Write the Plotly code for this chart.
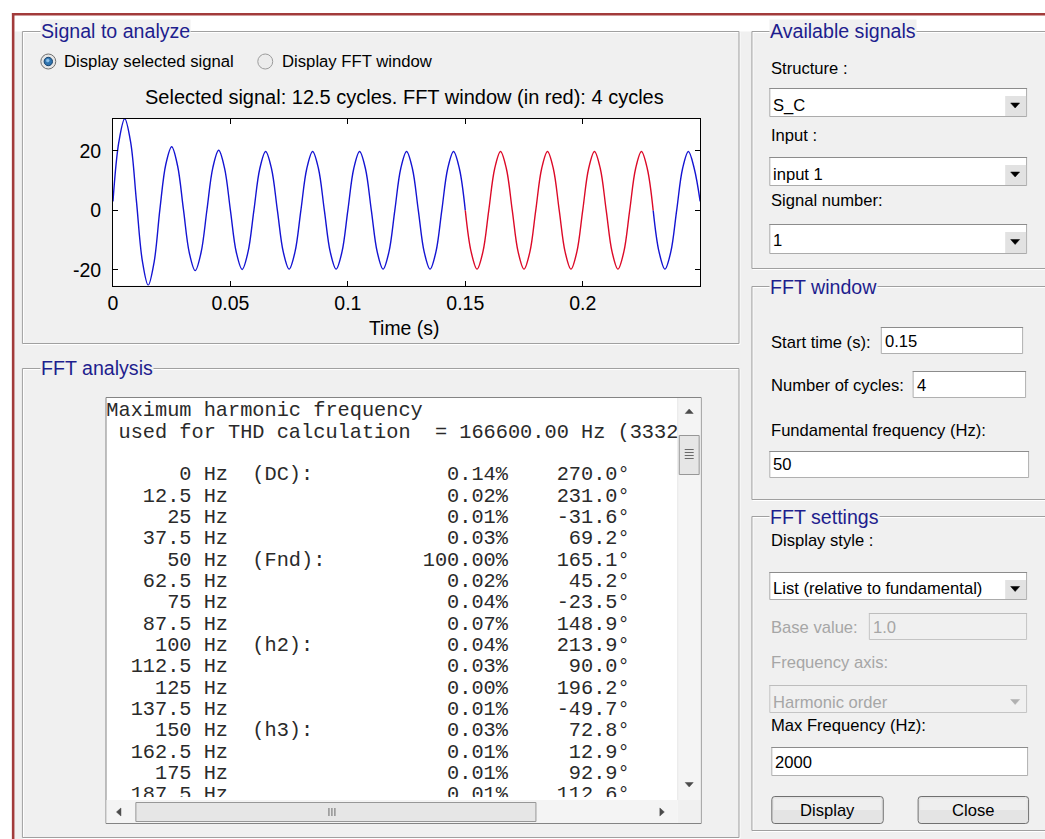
import plotly.graph_objects as go

W, H = 1045, 839

# ------------------------------------------------------------------ data
sample_step_s = 0.0025
signal_values = [
    3.0, 23.0, 30.8, 23.0, 3.0, -17.0, -25.2, -17.5,
    0.5, 15.5, 21.4, 15.0, 0.3, -14.3, -20.3, -14.2,
    0.1, 14.3, 20.2, 14.2, 0.0, -14.1, -19.9, -14.0,
    0.0, 14.0, 19.8, 14.0, 0.0, -14.0, -19.8, -14.0,
    0.0, 14.0, 19.8, 14.0, 0.0, -14.0, -19.8, -14.0,
    0.0, 14.0, 19.8, 14.0, 0.0, -14.0, -19.8, -14.0,
    0.0, 14.0, 19.8, 14.0, 0.0, -14.0, -19.8, -14.0,
    0.0, 14.0, 19.8, 14.0, 0.0, -14.0, -19.8, -14.0,
    0.0, 14.0, 19.8, 14.0, 0.0, -14.0, -19.8, -14.0,
    0.0, 14.0, 19.8, 14.0, 0.0, -14.0, -19.8, -14.0,
    0.0, 14.0, 19.8, 14.0, 0.0, -14.0, -19.8, -14.0,
    0.0, 14.0, 19.8, 14.0, 0.0, -14.0, -19.8, -14.0,
    0.0, 14.0, 19.8, 14.0, 3.0,
]
fft_start_s = 0.15
fft_cycles = 4
fundamental_hz = 50
x_range = [0, 0.25]
y_range = [-25.3, 30.9]
x_ticks = [0, 0.05, 0.1, 0.15, 0.2]
x_tick_labels = ["0", "0.05", "0.1", "0.15", "0.2"]
y_ticks = [-20, 0, 20]
y_tick_labels = ["-20", "0", "20"]

harm_freq_labels = ["0", "12.5", "25", "37.5", "50", "62.5", "75", "87.5",
                    "100", "112.5", "125", "137.5", "150", "162.5", "175", "187.5"]
harm_tags = ["(DC):", "", "", "", "(Fnd):", "", "", "", "(h2):", "", "", "",
             "(h3):", "", "", ""]
harm_mag_pct = [0.14, 0.02, 0.01, 0.03, 100.00, 0.02, 0.04, 0.07,
                0.04, 0.03, 0.00, 0.01, 0.03, 0.01, 0.01, 0.01]
harm_phase_deg = [270.0, 231.0, -31.6, 69.2, 165.1, 45.2, -23.5, 148.9,
                  213.9, 90.0, 196.2, -49.7, 72.8, 12.9, 92.9, 112.6]
header_lines = ["Maximum harmonic frequency",
                " used for THD calculation  = 166600.00 Hz (3332"]

# ------------------------------------------------------------------ styles
SANS = "Liberation Sans, Arial, sans-serif"
MONO = "Liberation Mono, Courier New, monospace"
PANEL_BG = "#F0F0F0"
TITLE_BLUE = "#1E1E8E"
GRAY_TXT = "#A6A6A6"

shapes = []
annotations = []


def fx(x):
    return x / W


def fy(y):
    return 1 - y / H


def rect(x0, y0, x1, y1, fill=None, line=None, lw=1):
    shapes.append(dict(type="rect", xref="paper", yref="paper",
                       x0=fx(x0), x1=fx(x1), y0=fy(y1), y1=fy(y0),
                       fillcolor=fill or "rgba(0,0,0,0)",
                       line=dict(color=line or "rgba(0,0,0,0)", width=lw if line else 0),
                       layer="below"))


def seg(x0, y0, x1, y1, color, lw=1):
    shapes.append(dict(type="line", xref="paper", yref="paper",
                       x0=fx(x0), x1=fx(x1), y0=fy(y0), y1=fy(y1),
                       line=dict(color=color, width=lw), layer="below"))


def poly(points, fill, line=None):
    d = "M " + " L ".join(f"{fx(x):.6f},{fy(y):.6f}" for x, y in points) + " Z"
    shapes.append(dict(type="path", xref="paper", yref="paper", path=d,
                       fillcolor=fill, line=dict(color=line or fill, width=0.5 if line is None else 1),
                       layer="below"))


def circle(cx, cy, r, fill, line, lw=1):
    shapes.append(dict(type="circle", xref="paper", yref="paper",
                       x0=fx(cx - r), x1=fx(cx + r), y0=fy(cy + r), y1=fy(cy - r),
                       fillcolor=fill, line=dict(color=line, width=lw), layer="below"))


def text(x, y, s, size=16.6, color="#000000", xanchor="left", family=SANS, bg=None):
    a = dict(x=fx(x), y=fy(y), xref="paper", yref="paper", text=s, showarrow=False,
             xanchor=xanchor, yanchor="middle", borderpad=0,
             font=dict(size=size, color=color, family=family))
    if bg:
        a["bgcolor"] = bg
    annotations.append(a)


# ------------------------------------------------------------------ window background
rect(9.5, 31.5, 1046, 840, fill=PANEL_BG)
seg(7, 14.2, 1046, 14.2, "#A23B3B", 2.6)
seg(8.2, 13, 8.2, 840, "#A23B3B", 2.6)


def frame(x0, y0, x1, y1):
    rect(x0 + 1, y0 + 1, x1 + 1, y1 + 1, line="#FFFFFF")
    rect(x0, y0, x1, y1, line="#A0A0A0")


frame(17.5, 31.5, 737.5, 343.5)
frame(17.5, 368.5, 737.5, 837.5)
frame(750.5, 31.5, 1060, 268.5)
frame(750.5, 286.5, 1060, 499.5)
frame(750.5, 516.5, 1060, 830.5)

text(35, 31, "Signal to analyze", 19.6, TITLE_BLUE, bg=PANEL_BG)
text(35, 368, "FFT analysis", 19.6, TITLE_BLUE, bg=PANEL_BG)
text(768, 31, "Available signals", 19.6, TITLE_BLUE, bg=PANEL_BG)
text(768, 287, "FFT window", 19.6, TITLE_BLUE, bg=PANEL_BG)
text(768, 517, "FFT settings", 19.6, TITLE_BLUE, bg=PANEL_BG)

# radio buttons
circle(43.5, 61.5, 7.5, "#E6E6E6", "#6F6F6F")
circle(43.5, 61.5, 4.2, "#2F74B0", "#15406A")
circle(43.0, 60.5, 1.5, "#8EC3EA", "#8EC3EA", 0.5)
text(58, 61, "Display selected signal", 16.7)
circle(261.5, 61.5, 7.5, "#ECECEC", "#9C9C9C")
text(277, 61, "Display FFT window", 16.7)

# signal plot area background + labels
rect(108.5, 118.5, 698.5, 285.5, fill="#FFFFFF")
text(401, 97, "Selected signal: 12.5 cycles. FFT window (in red): 4 cycles", 20, xanchor="center")
text(401, 328, "Time (s)", 19.4, xanchor="center")

# ------------------------------------------------------------------ right side widgets


def popup(x0, y0, x1, y1, label, ty, enabled=True):
    rect(x0 + 0.5, y0 + 0.5, x1 - 0.5, y1 - 0.5, fill="#FFFFFF" if enabled else PANEL_BG,
         line="#ABABAB" if enabled else "#C4C4C4")
    seg(x0, y0 + 0.5, x1, y0 + 0.5, "#8C8C8C" if enabled else "#BDBDBD")
    if enabled:
        rect(x1 - 22, y0 + 8, x1 - 1, y1 - 1, fill="#E2E2E2")
    cx, cy = x1 - 12, (y0 + y1) / 2 + 3
    poly([(cx - 4.5, cy - 2.5), (cx + 4.5, cy - 2.5), (cx, cy + 2.5)],
         "#000000" if enabled else "#B0B0B0")
    text(x0 + 3, ty, label, 16.6, "#000000" if enabled else GRAY_TXT)


def edit(x0, y0, x1, y1, label, ty, enabled=True):
    rect(x0 + 0.5, y0 + 0.5, x1 - 0.5, y1 - 0.5, fill="#FFFFFF" if enabled else PANEL_BG,
         line="#B0B0B0" if enabled else "#C4C4C4")
    seg(x0, y0 + 0.5, x1, y0 + 0.5, "#8C8C8C" if enabled else "#BDBDBD")
    text(x0 + 3, ty, label, 16.6, "#000000" if enabled else GRAY_TXT)


def button(x0, y0, x1, y1, label):
    r = 3
    d = (f"M {fx(x0 + r)},{fy(y0)} L {fx(x1 - r)},{fy(y0)} Q {fx(x1)},{fy(y0)} {fx(x1)},{fy(y0 + r)} "
         f"L {fx(x1)},{fy(y1 - r)} Q {fx(x1)},{fy(y1)} {fx(x1 - r)},{fy(y1)} "
         f"L {fx(x0 + r)},{fy(y1)} Q {fx(x0)},{fy(y1)} {fx(x0)},{fy(y1 - r)} "
         f"L {fx(x0)},{fy(y0 + r)} Q {fx(x0)},{fy(y0)} {fx(x0 + r)},{fy(y0)} Z")
    shapes.append(dict(type="path", xref="paper", yref="paper", path=d, fillcolor="#E4E4E4",
                       line=dict(color="#707070", width=1), layer="below"))
    rect(x0 + 2, y0 + 2, x1 - 2, (y0 + y1) / 2, fill="#EEEEEE")
    text((x0 + x1) / 2, (y0 + y1) / 2, label, 16.6, xanchor="center")


text(769, 68, "Structure :")
popup(768, 88, 1027, 117, "S_C", 105)
text(769, 135, "Input :")
popup(768, 157, 1027, 186, "input 1", 174)
text(769, 200, "Signal number:")
popup(768, 224, 1027, 254, "1", 240)

text(769, 342, "Start time (s):")
edit(880, 327, 1023, 354, "0.15", 341)
text(769, 385, "Number of cycles:")
edit(912, 371, 1026, 398, "4", 385)
text(769, 430, "Fundamental frequency (Hz):")
edit(768, 451, 1029, 478, "50", 464)

text(769, 540, "Display style :")
popup(768, 572, 1027, 600, "List (relative to fundamental)", 588)
text(769, 627, "Base value:", color=GRAY_TXT)
edit(868, 613, 1027, 640, "1.0", 627, enabled=False)
text(769, 662, "Frequency axis:", color=GRAY_TXT)
popup(768, 685, 1027, 713, "Harmonic order", 702, enabled=False)
text(769, 725, "Max Frequency (Hz):")
edit(770, 747, 1028, 776, "2000", 762)
button(770.5, 796.5, 882.5, 823.5, "Display")
button(917.5, 796.5, 1028.5, 823.5, "Close")

# ------------------------------------------------------------------ listbox chrome
rect(101.5, 397.5, 699.5, 823.5, fill="#FFFFFF", line="#848484")
rect(676, 398, 699, 800, fill="#F4F4F4")
seg(676, 398, 676, 800, "#E6E6E6")
poly([(683.5, 413.5), (691.5, 413.5), (687.5, 409)], "#4A4A4A")
rect(677.5, 435.5, 697.5, 474.5, fill="#E6E6E6", line="#979797")
for gy in (449.5, 452.5, 455.5, 458.5):
    seg(683, gy, 692, gy, "#6A6A6A")
poly([(683.5, 782.5), (691.5, 782.5), (687.5, 787)], "#4A4A4A")
rect(102, 800, 676, 823, fill="#F4F4F4")
poly([(116.5, 808), (116.5, 816), (112, 812)], "#4A4A4A")
rect(131.5, 802.5, 533.5, 821.5, fill="#E6E6E6", line="#979797")
for gx in (325.5, 328.5, 331.5):
    seg(gx, 808, gx, 816, "#6A6A6A")
poly([(658, 808), (658, 816), (662.5, 812)], "#4A4A4A")
rect(676, 800, 699, 823, fill=PANEL_BG)

# ------------------------------------------------------------------ traces
sample_times = [round(i * sample_step_s, 6) for i in range(len(signal_values))]
window_end_s = fft_start_s + fft_cycles / fundamental_hz
eps = 1e-9

blue_x, blue_y, red_x, red_y = [], [], [], []
for t, v in zip(sample_times, signal_values):
    if t <= fft_start_s + eps:
        blue_x.append(t)
        blue_y.append(v)
    if fft_start_s - eps <= t <= window_end_s + eps:
        red_x.append(t)
        red_y.append(v)
blue_x.append(None)
blue_y.append(None)
for t, v in zip(sample_times, signal_values):
    if t >= window_end_s - eps:
        blue_x.append(t)
        blue_y.append(v)

fig = go.Figure()
fig.add_trace(go.Scatter(x=blue_x, y=blue_y, mode="lines",
                         line=dict(color="#1414D2", width=1.4, shape="spline", smoothing=1.0),
                         hoverinfo="skip", showlegend=False))
fig.add_trace(go.Scatter(x=red_x, y=red_y, mode="lines",
                         line=dict(color="#DC0A28", width=1.4, shape="spline", smoothing=1.0),
                         hoverinfo="skip", showlegend=False))


# listbox text (clipped to the listbox viewport by the hidden subplot)
def fmt_line(f, tag, mag, ph):
    s = f.rjust(7) + " Hz"
    if tag:
        s = s + "  " + tag
    mag_s = f"{mag:.2f}%"
    s = s.ljust(33 - len(mag_s)) + mag_s
    ph_s = f"{ph:.1f}\u00b0"
    s = s.ljust(43 - len(ph_s)) + ph_s
    return s


list_lines = list(header_lines) + [fmt_line(f, g, m, p) for f, g, m, p in
                                   zip(harm_freq_labels, harm_tags, harm_mag_pct, harm_phase_deg)]
list_y = [411.3, 432.7] + [475.3 + 21.33 * i for i in range(len(harm_freq_labels))]
fig.add_trace(go.Scatter(x=[101.8] * len(list_lines), y=list_y, mode="text",
                         text=[s.replace(" ", "\u00a0") for s in list_lines],
                         textposition="middle right", cliponaxis=True,
                         textfont=dict(family=MONO, size=20.3, color="#2A2A2A"),
                         xaxis="x2", yaxis="y2", hoverinfo="skip", showlegend=False))

axis_font = dict(family=SANS, size=19.5, color="#000000")
fig.update_layout(
    width=W, height=H, autosize=False,
    margin=dict(l=0, r=0, t=0, b=0, pad=0),
    paper_bgcolor="#FFFFFF", plot_bgcolor="#FFFFFF",
    showlegend=False,
    xaxis=dict(domain=[108.5 / W, 698.5 / W], range=x_range, tickvals=x_ticks, ticktext=x_tick_labels,
               ticks="inside", ticklen=5, tickcolor="#000000", mirror="ticks", showline=True,
               linecolor="#000000", linewidth=1, showgrid=False, zeroline=False,
               tickfont=axis_font, fixedrange=True, anchor="y"),
    yaxis=dict(domain=[1 - 285.5 / H, 1 - 118.5 / H], range=y_range, tickvals=y_ticks, ticktext=y_tick_labels,
               ticks="inside", ticklen=5, tickcolor="#000000", mirror="ticks", showline=True,
               linecolor="#000000", linewidth=1, showgrid=False, zeroline=False,
               ticklabelstandoff=7,
               tickfont=axis_font, fixedrange=True, anchor="x"),
    xaxis2=dict(domain=[101 / W, 676 / W], range=[101, 676], visible=False, fixedrange=True, anchor="y2"),
    yaxis2=dict(domain=[1 - 797 / H, 1 - 398 / H], range=[797, 398], visible=False, fixedrange=True, anchor="x2"),
    shapes=shapes,
    annotations=annotations,
)

fig.write_html("out.html", config={"displayModeBar": False},
               post_script="document.body.style.margin='0';document.body.style.overflow='hidden';")
